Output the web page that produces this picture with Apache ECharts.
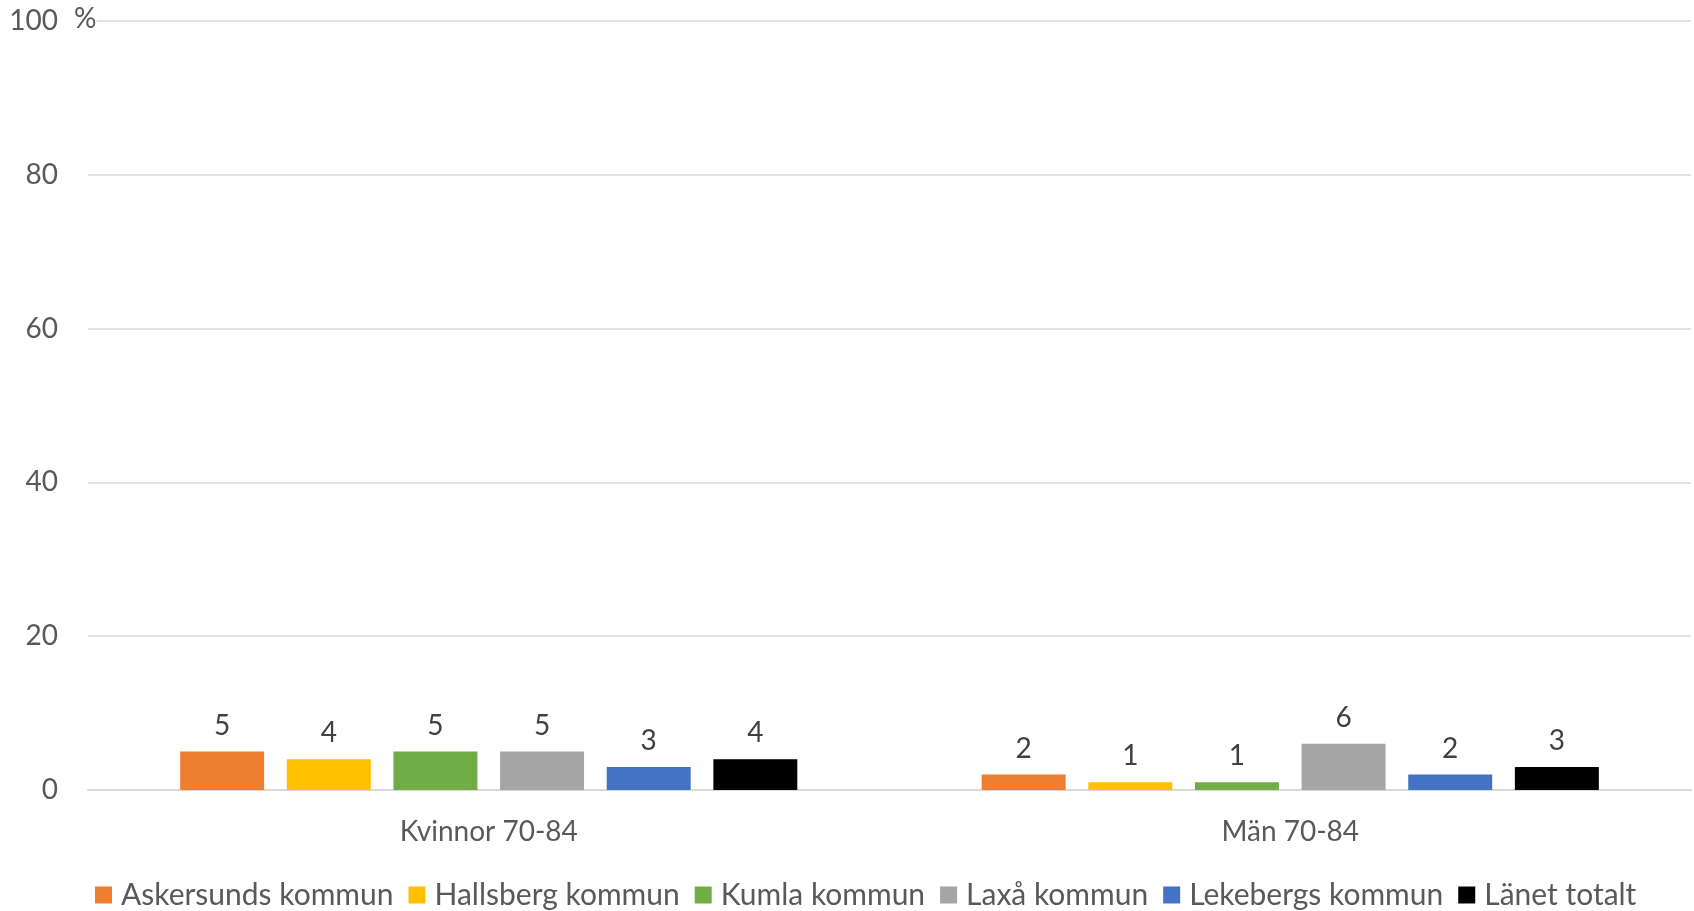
<!DOCTYPE html>
<html>
<head>
<meta charset="utf-8">
<script src="https://cdn.jsdelivr.net/npm/echarts@6/dist/echarts.min.js"></script>
<style>
  html, body { margin: 0; padding: 0; background: #fff; }
  #chart { width: 1694px; height: 911px; }
</style>
</head>
<body>
<div id="chart"></div>
<script>
// data
const categories = ['Kvinnor 70-84', 'Män 70-84']
const seriesNames = ['Askersunds kommun', 'Hallsberg kommun', 'Kumla kommun', 'Laxå kommun', 'Lekebergs kommun', 'Länet totalt']
const askersund = [5, 2]
const hallsberg = [4, 1]
const kumla = [5, 1]
const laxa = [5, 6]
const lekeberg = [3, 2]
const lanet = [4, 3]
const yTicks = [0, 20, 40, 60, 80, 100]

const colors = ['#ED7D31', '#FFC000', '#70AD47', '#A5A5A5', '#4472C4', '#000000']
const fontFamily = 'Lato, "Noto Sans", sans-serif'
const values = [askersund, hallsberg, kumla, laxa, lekeberg, lanet]

const chart = echarts.init(document.getElementById('chart'))

const series = seriesNames.map((name, i) => {
    return {
        name: name,
        type: 'bar',
        data: values[i],
        barGap: '27%',
        barCategoryGap: '23%',
        itemStyle: { color: colors[i] },
        label: {
            show: true,
            position: 'top',
            distance: 12,
            color: '#404040',
            fontSize: 28,
            fontFamily: fontFamily
        }
    }
})

chart.setOption({
    animation: false,
    color: colors,
    grid: { left: 88, right: 3, top: 21, bottom: 121, containLabel: false },
    legend: {
        data: seriesNames,
        left: 90,
        top: 875,
        itemWidth: 17,
        itemHeight: 17,
        itemGap: 15,
        icon: 'rect',
        textStyle: { color: '#595959', fontSize: 30, fontFamily: fontFamily, padding: [0, 0, 0, 4] }
    },
    xAxis: {
        type: 'category',
        data: categories,
        axisTick: { show: false },
        axisLine: { lineStyle: { color: '#D9D9D9', width: 2 } },
        axisLabel: { color: '#595959', fontSize: 28, fontFamily: fontFamily, margin: 28 }
    },
    yAxis: {
        type: 'value',
        min: yTicks[0],
        max: yTicks[yTicks.length - 1],
        interval: 20,
        axisLine: { show: false },
        axisTick: { show: false },
        splitLine: { lineStyle: { color: '#D9D9D9', width: 1.5 } },
        axisLabel: { color: '#595959', fontSize: 28, fontFamily: fontFamily, margin: 30 }
    },
    graphic: [{
        type: 'text',
        left: 74,
        top: 5,
        z: 100,
        style: { text: '%', fill: '#595959', fontSize: 28, fontFamily: fontFamily, backgroundColor: '#fff' }
    }],
    series: series
})
</script>
</body>
</html>
